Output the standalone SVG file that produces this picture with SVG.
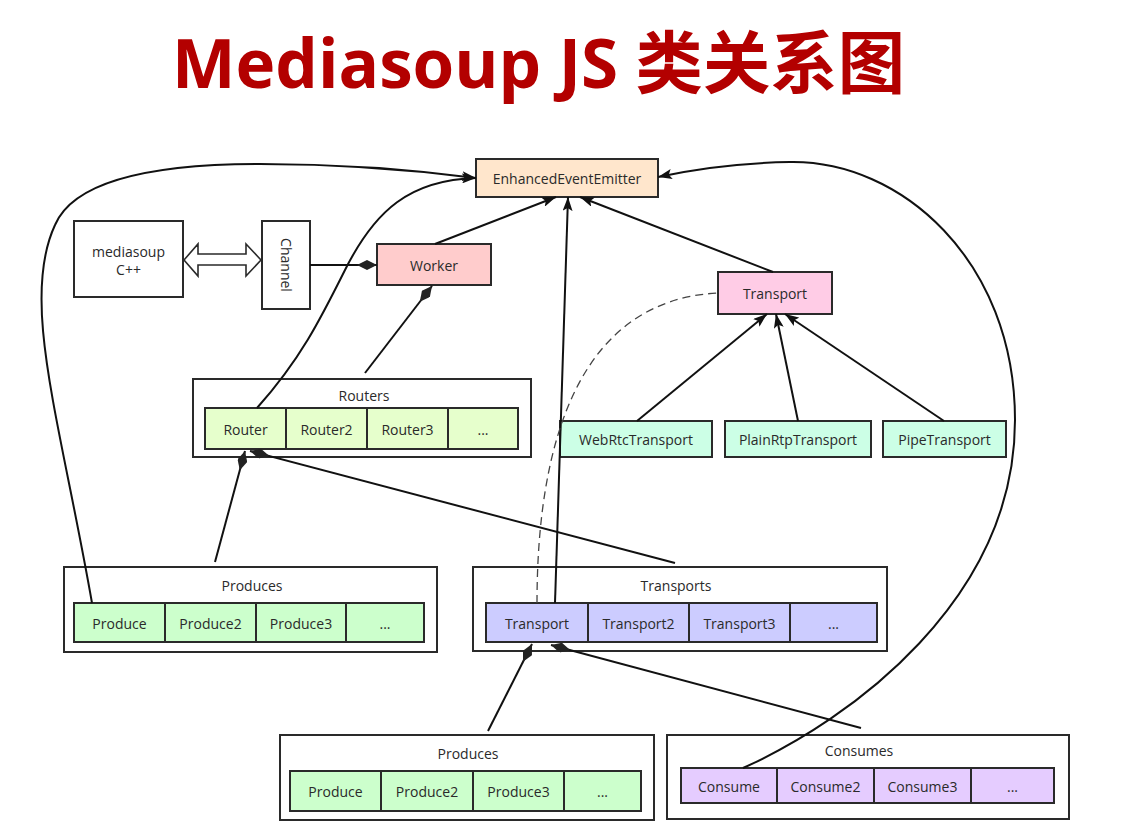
<svg xmlns="http://www.w3.org/2000/svg" width="1128" height="833" viewBox="0 0 1128 833">
<defs>
<style>
.box{stroke:#2a2a2a;stroke-width:2}
.cont{fill:#ffffff;stroke:#2a2a2a;stroke-width:2}
.t{font-family:"Open Sans","Noto Sans",sans-serif;font-size:14px;fill:#2a2a2a;text-anchor:middle;dominant-baseline:central}
.ln{fill:none;stroke:#111;stroke-width:2}
.arr{marker-end:url(#arrow)}
.dia{marker-end:url(#diamond)}
.g{fill:#ccffcc}.r{fill:#e6ffcc}.b{fill:#ccccff}.p{fill:#e5ccff}
</style>
<marker id="arrow" viewBox="0 0 14 10" refX="14" refY="5" markerWidth="14" markerHeight="10" markerUnits="userSpaceOnUse" orient="auto">
<path d="M0,0 L14,5 L0,10 L3,5 z" fill="#111"/>
</marker>
<marker id="diamond" viewBox="0 0 20 10" refX="20" refY="5" markerWidth="20" markerHeight="10" markerUnits="userSpaceOnUse" orient="auto">
<path d="M0,5 L10,0 L20,5 L10,10 z" fill="#222"/>
</marker>
</defs>
<rect width="1128" height="833" fill="#ffffff"/>
<text x="172" y="88" textLength="733" lengthAdjust="spacingAndGlyphs" font-family="'Open Sans','Noto Sans CJK SC',sans-serif" font-weight="bold" font-size="68" fill="#b30000">Mediasoup JS 类关系图</text>

<g id="eee"><rect class="box" x="476" y="159" width="182" height="38" fill="#ffe6cc"/><text class="t" x="567" y="178">EnhancedEventEmitter</text></g>
<g id="mediasoup-cpp"><rect class="box" x="74" y="221" width="109" height="76" fill="#ffffff"/><text class="t" x="128.5" y="251">mediasoup</text><text class="t" x="128.5" y="269">C++</text></g>
<g id="ipc"><polygon points="184,260 198,244 198,254 246,254 246,244 261,260 246,276 246,265 198,265 198,276" fill="#ffffff" stroke="#2a2a2a" stroke-width="1.6"/></g>
<g id="channel"><rect class="box" x="262" y="221" width="48" height="88" fill="#ffffff"/><text class="t" x="286" y="265" transform="rotate(90 286 265)">Channel</text></g>
<g id="worker"><rect class="box" x="377" y="244" width="114" height="41" fill="#ffcccc"/><text class="t" x="434" y="265">Worker</text></g>
<g id="transport-base"><rect class="box" x="718" y="272" width="114" height="42" fill="#ffcce6"/><text class="t" x="775" y="293">Transport</text></g>
<g id="webrtc"><rect class="box" x="560" y="421" width="152" height="36" fill="#ccffe6"/><text class="t" x="636" y="439">WebRtcTransport</text></g>
<g id="plainrtp"><rect class="box" x="725" y="421" width="146" height="36" fill="#ccffe6"/><text class="t" x="798" y="439">PlainRtpTransport</text></g>
<g id="pipe"><rect class="box" x="883" y="421" width="123" height="36" fill="#ccffe6"/><text class="t" x="944.5" y="439">PipeTransport</text></g>

<g id="routers">
<rect class="cont" x="193" y="379" width="338" height="78"/>
<text class="t" x="364" y="395">Routers</text>
<rect class="box r" x="205" y="408" width="81" height="41"/><text class="t" x="245.5" y="429">Router</text>
<rect class="box r" x="286" y="408" width="81" height="41"/><text class="t" x="326.5" y="429">Router2</text>
<rect class="box r" x="367" y="408" width="81" height="41"/><text class="t" x="407.5" y="429">Router3</text>
<rect class="box r" x="448" y="408" width="70" height="41"/><text class="t" x="483" y="429">...</text>
</g>

<g id="produces-1">
<rect class="cont" x="64" y="567" width="373" height="85"/>
<text class="t" x="252" y="585">Produces</text>
<rect class="box g" x="74" y="603" width="91" height="39"/><text class="t" x="119.5" y="623">Produce</text>
<rect class="box g" x="165" y="603" width="91" height="39"/><text class="t" x="210.5" y="623">Produce2</text>
<rect class="box g" x="256" y="603" width="90" height="39"/><text class="t" x="301" y="623">Produce3</text>
<rect class="box g" x="346" y="603" width="78" height="39"/><text class="t" x="385" y="623">...</text>
</g>

<g id="transports">
<rect class="cont" x="473" y="567" width="414" height="84"/>
<text class="t" x="676" y="585">Transports</text>
<rect class="box b" x="486" y="603" width="102" height="39"/><text class="t" x="537" y="623">Transport</text>
<rect class="box b" x="588" y="603" width="101" height="39"/><text class="t" x="638.5" y="623">Transport2</text>
<rect class="box b" x="689" y="603" width="101" height="39"/><text class="t" x="739.5" y="623">Transport3</text>
<rect class="box b" x="790" y="603" width="87" height="39"/><text class="t" x="833.5" y="623">...</text>
</g>

<g id="produces-2">
<rect class="cont" x="280" y="735" width="374" height="85"/>
<text class="t" x="468" y="753">Produces</text>
<rect class="box g" x="290" y="771" width="91" height="40"/><text class="t" x="335.5" y="791">Produce</text>
<rect class="box g" x="381" y="771" width="92" height="40"/><text class="t" x="427" y="791">Produce2</text>
<rect class="box g" x="473" y="771" width="91" height="40"/><text class="t" x="518.5" y="791">Produce3</text>
<rect class="box g" x="564" y="771" width="77" height="40"/><text class="t" x="602.5" y="791">...</text>
</g>

<g id="consumes">
<rect class="cont" x="667" y="735" width="402" height="84"/>
<text class="t" x="859" y="750">Consumes</text>
<rect class="box p" x="681" y="768" width="96" height="35"/><text class="t" x="729" y="786">Consume</text>
<rect class="box p" x="777" y="768" width="97" height="35"/><text class="t" x="825.5" y="786">Consume2</text>
<rect class="box p" x="874" y="768" width="97" height="35"/><text class="t" x="922.5" y="786">Consume3</text>
<rect class="box p" x="971" y="768" width="83" height="35"/><text class="t" x="1012.5" y="786">...</text>
</g>

<g id="connectors">
<path class="ln arr" d="M92 603 C60 420, 20 300, 55 225 C72 185, 140 164, 260 164 C360 164, 430 172, 476 178"/>
<path class="ln arr" d="M257 408 C300 360, 320 320, 345 270 C375 210, 410 180, 476 178"/>
<path class="ln arr" d="M743 768 C850 720, 1015 600, 1015 420 C1015 260, 900 160, 790 162 C730 163, 690 170, 658 177"/>
<line class="ln dia" x1="310" y1="265" x2="377" y2="265"/>
<line class="ln dia" x1="365" y1="373" x2="432" y2="286"/>
<line class="ln arr" x1="435" y1="244" x2="556" y2="197"/>
<line class="ln arr" x1="773" y1="272" x2="580" y2="197"/>
<line class="ln arr" x1="555" y1="603" x2="568" y2="197"/>
<path d="M537 603 C537 440, 580 300, 718 293" fill="none" stroke="#444" stroke-width="1.3" stroke-dasharray="8,5"/>
<line class="ln arr" x1="637" y1="421" x2="767" y2="314"/>
<line class="ln arr" x1="798" y1="421" x2="776" y2="314"/>
<line class="ln arr" x1="944" y1="421" x2="785" y2="314"/>
<line class="ln dia" x1="215" y1="562" x2="245" y2="451"/>
<line class="ln dia" x1="675" y1="563" x2="250" y2="451"/>
<line class="ln dia" x1="488" y1="731" x2="532" y2="644"/>
<line class="ln dia" x1="861" y1="728" x2="551" y2="645"/>
</g>
</svg>
